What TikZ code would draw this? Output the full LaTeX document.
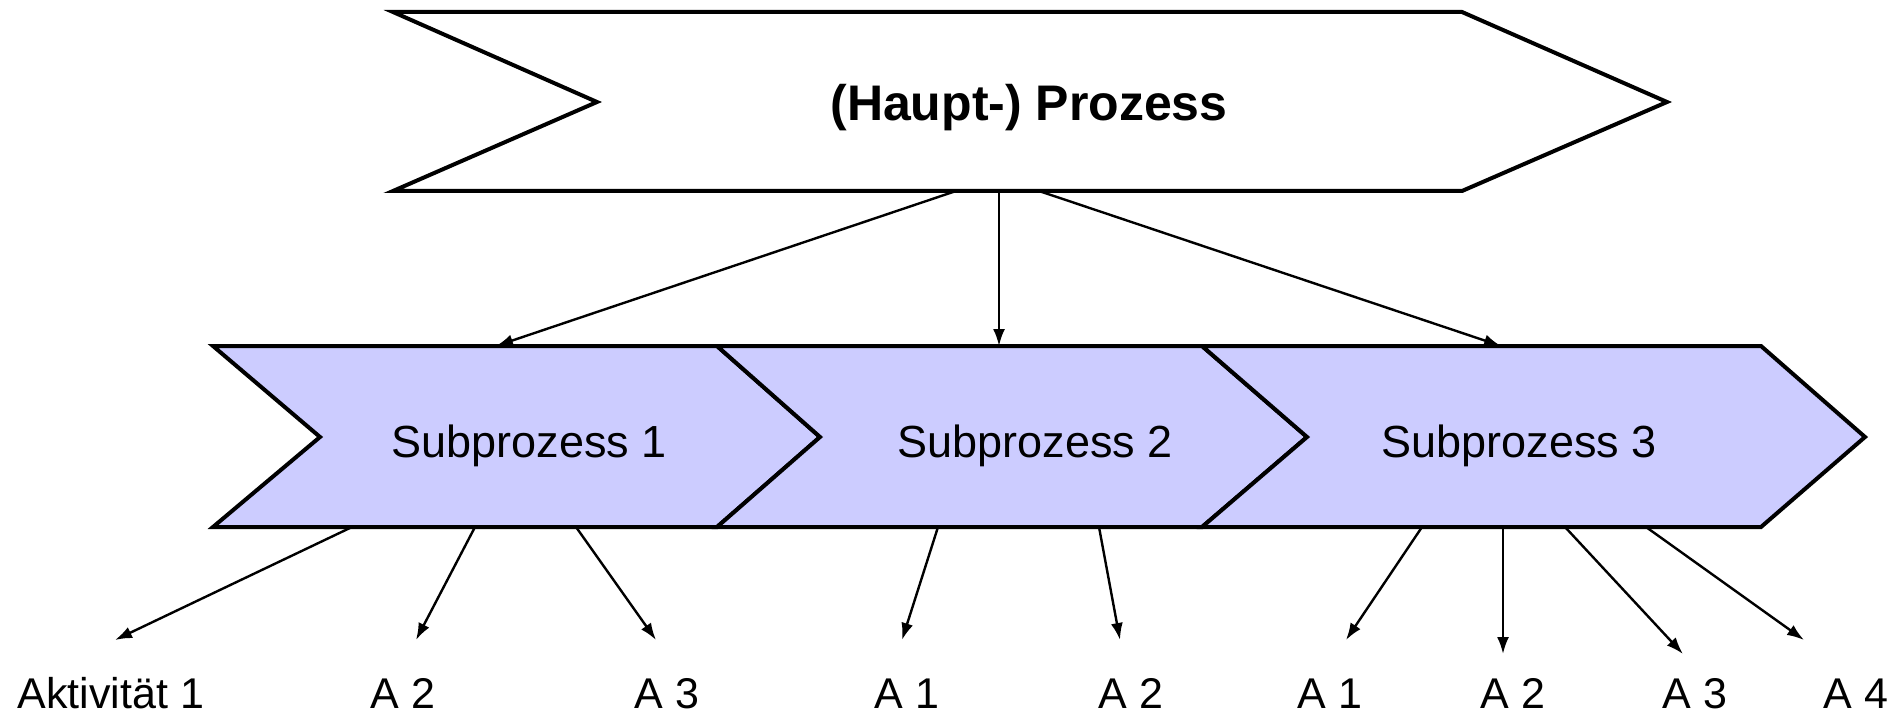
\documentclass[tikz,border=0pt]{standalone}
\usepackage{fontspec}
\setmainfont{Liberation Sans}
\usetikzlibrary{arrows.meta}
\definecolor{subfill}{HTML}{CCCCFF}
\tikzset{
  chev/.style={draw=black, line width=4pt, line join=miter},
  conn/.style={draw=black, line width=2.4pt, -{Latex[length=17pt,width=12pt]}},
  lbl/.style={font=\fontsize{43}{48}\selectfont, inner sep=0pt, anchor=base},
  sublbl/.style={font=\fontsize{45}{50}\selectfont, inner sep=0pt},
}
\begin{document}
\begin{tikzpicture}[x=1pt,y=-1pt]
\useasboundingbox (0,0) rectangle (1898,714);
% main process
\draw[chev, fill=white] (393,12) -- (1462,12) -- (1667,102) -- (1462,191) -- (393,191) -- (597,102) -- cycle;
\node[font=\bfseries\fontsize{50}{55}\selectfont, inner sep=0pt] (main) at (1029,108) {(Haupt-) Prozess};
% subprocesses
\draw[chev, fill=subfill] (213,346) -- (717,346) -- (820,437) -- (717,527) -- (213,527) -- (320,437) -- cycle;
\draw[chev, fill=subfill] (717,346) -- (1202,346) -- (1307,437) -- (1202,527) -- (717,527) -- (820,437) -- cycle;
\draw[chev, fill=subfill] (1202,346) -- (1761,346) -- (1865,437) -- (1761,527) -- (1202,527) -- (1307,437) -- cycle;
\node[sublbl] (s1) at (529,446) {Subprozess 1};
\node[sublbl] (s2) at (1035,446) {Subprozess 2};
\node[sublbl] (s3) at (1519,446) {Subprozess 3};
% connector points
\coordinate (m1) at (956,191); \coordinate (t1) at (496,346);
\coordinate (m2) at (999,191); \coordinate (t2) at (999,346);
\coordinate (m3) at (1039,191); \coordinate (t3) at (1501,346);
\draw[conn] (m1) -- (t1);
\draw[conn] (m2) -- (t2);
\draw[conn] (m3) -- (t3);
% activity labels
\node[lbl] (a11) at (111,708) {Aktivität 1};
\node[lbl] (a12) at (403,708) {A 2};
\node[lbl] (a13) at (667,708) {A 3};
\node[lbl] (a21) at (907,708) {A 1};
\node[lbl] (a22) at (1131,708) {A 2};
\node[lbl] (a31) at (1330,708) {A 1};
\node[lbl] (a32) at (1513,708) {A 2};
\node[lbl] (a33) at (1695,708) {A 3};
\node[lbl] (a34) at (1856,708) {A 4};
% activity connectors
\coordinate (b11) at (352,527); \coordinate (e11) at (115,640);
\coordinate (b12) at (475,527); \coordinate (e12) at (416,640);
\coordinate (b13) at (576,527); \coordinate (e13) at (656,640);
\coordinate (b21) at (938,527); \coordinate (e21) at (902,640);
\coordinate (b22) at (1099,527); \coordinate (e22) at (1120,640);
\coordinate (b31) at (1422,527); \coordinate (e31) at (1346,640);
\coordinate (b32) at (1503,527); \coordinate (e32) at (1503,654);
\coordinate (b33) at (1565,527); \coordinate (e33) at (1683,654);
\coordinate (b34) at (1646,527); \coordinate (e34) at (1804,640);
\foreach \s/\e in {b11/e11,b12/e12,b13/e13,b21/e21,b22/e22,b31/e31,b32/e32,b33/e33,b34/e34}
  \draw[conn] (\s) -- (\e);
\end{tikzpicture}
\end{document}
